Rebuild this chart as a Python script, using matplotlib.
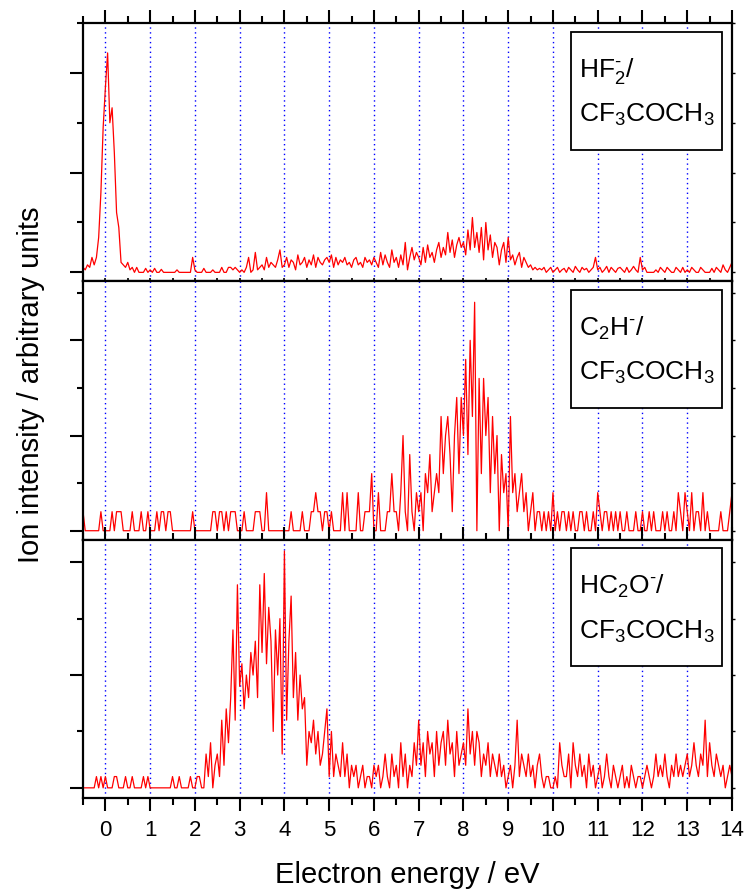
import matplotlib
matplotlib.use("Agg")
import matplotlib.pyplot as plt
import numpy as np
from matplotlib.patches import Rectangle
from matplotlib.ticker import MultipleLocator

plt.rcParams["font.family"] = ["Liberation Sans", "DejaVu Sans"]
plt.rcParams["mathtext.fontset"] = "custom"
plt.rcParams["mathtext.rm"] = "Liberation Sans"
plt.rcParams["mathtext.it"] = "Liberation Sans"

# energy scan: -0.5 .. 14.0 eV, 0.05 eV steps
E0, DE = -0.5, 0.05

# HF2- / CF3COCH3 (arb. units)
hf2 = ([0.1, 0.05, 0.15, 0.1, 0.3, 0.15, 0.3, 0.7, 1.6, 2.9]
       + [3.7, 4.4, 3.0, 3.3, 2.4, 1.2, 0.9, 0.2, 0.15, 0.1, 0.2, 0.05, 0.1, 0.0, 0.1, 0.0, 0.0, 0.0, 0.08, 0.0]
       + [0.05, 0.0, 0.08, 0.0, 0.0, 0.06, 0.0, 0.0, 0.0, 0.0, 0.0, 0.0, 0.05, 0.0, 0.0, 0.0, 0.0, 0.0, 0.0, 0.3]
       + [0.05, 0.0, 0.0, 0.0, 0.08, 0.0, 0.0, 0.0, 0.05, 0.0, 0.0, 0.0, 0.1, 0.0, 0.0, 0.1, 0.1, 0.05, 0.1, 0.05]
       + [0.0, 0.05, 0.0, 0.1, 0.3, 0.0, 0.05, 0.4, 0.05, 0.1, 0.15, 0.05, 0.3, 0.1, 0.2, 0.15, 0.1, 0.25, 0.45, 0.1]
       + [0.15, 0.3, 0.1, 0.25, 0.2, 0.05, 0.35, 0.15, 0.2, 0.3, 0.1, 0.25, 0.15, 0.35, 0.1, 0.3, 0.2, 0.15, 0.25, 0.3]
       + [0.2, 0.35, 0.1, 0.3, 0.15, 0.25, 0.2, 0.3, 0.15, 0.2, 0.1, 0.25, 0.3, 0.15, 0.2, 0.1, 0.3, 0.2, 0.25, 0.15]
       + [0.3, 0.2, 0.1, 0.4, 0.15, 0.35, 0.2, 0.1, 0.45, 0.2, 0.3, 0.1, 0.35, 0.15, 0.6, 0.05, 0.3, 0.5, 0.25, 0.4]
       + [0.3, 0.15, 0.5, 0.2, 0.55, 0.3, 0.4, 0.2, 0.45, 0.6, 0.3, 0.5, 0.35, 0.8, 0.4, 0.65, 0.3, 0.55, 0.7, 0.5]
       + [0.6, 0.35, 0.85, 0.45, 1.1, 0.5, 0.8, 0.4, 0.9, 0.25, 1.0, 0.45, 0.75, 0.3, 0.6, 0.5, 0.15, 0.45, 0.6, 0.2]
       + [0.7, 0.25, 0.35, 0.15, 0.3, 0.4, 0.1, 0.3, 0.2, 0.1, 0.15, 0.05, 0.1, 0.05, 0.08, 0.05, 0.1, 0.0, 0.05, 0.1]
       + [0.0, 0.05, 0.1, 0.0, 0.05, 0.08, 0.0, 0.1, 0.05, 0.0, 0.12, 0.05, 0.0, 0.1, 0.05, 0.08, 0.0, 0.05, 0.1, 0.3]
       + [0.05, 0.1, 0.0, 0.05, 0.12, 0.0, 0.1, 0.05, 0.0, 0.08, 0.1, 0.05, 0.0, 0.1, 0.0, 0.05, 0.12, 0.05, 0.0, 0.3]
       + [0.05, 0.1, 0.0, 0.0, 0.0, 0.0, 0.05, 0.0, 0.1, 0.05, 0.0, 0.1, 0.05, 0.0, 0.0, 0.1, 0.05, 0.0, 0.1, 0.0]
       + [0.05, 0.0, 0.1, 0.05, 0.0, 0.0, 0.1, 0.05, 0.0, 0.0, 0.0, 0.08, 0.0, 0.1, 0.05, 0.0, 0.15, 0.05, 0.0, 0.1]
       + [0.2])

# C2H- / CF3COCH3 (counts)
c2h = ([1, 0, 0, 0, 0, 0, 0, 0, 1, 0]
       + [0, 0, 0, 1, 0, 1, 1, 1, 0, 0, 0, 0, 1, 0, 0, 0, 1, 0, 0, 1]
       + [0, 0, 0, 1, 0, 1, 1, 0, 1, 1, 0, 0, 0, 0, 0, 0, 0, 0, 0, 1]
       + [0, 0, 0, 0, 0, 0, 0, 0, 1, 1, 0, 1, 1, 0, 1, 0, 1, 1, 1, 0]
       + [0, 0, 1, 0, 0, 0, 0, 1, 1, 1, 0, 0, 2, 0, 0, 0, 0, 0, 0, 0]
       + [0, 0, 0, 1, 0, 0, 0, 0, 1, 0, 0, 0, 1, 1, 2, 1, 1, 0, 1, 1]
       + [0, 1, 0, 0, 0, 0, 2, 0, 2, 0, 0, 0, 0, 2, 0, 0, 1, 1, 1, 3]
       + [0, 0, 2, 0, 0, 0, 1, 1, 3, 1, 1, 0, 2, 5, 1, 0, 4, 1, 0, 2]
       + [1, 2, 0, 3, 2, 4, 1, 2, 3, 2, 6, 3, 5, 6, 4, 1, 5, 7, 3, 7]
       + [5, 9, 4, 10, 6, 12, 0, 8, 3, 8, 5, 7, 2, 6, 3, 5, 0, 4, 2, 3]
       + [0, 6, 2, 3, 1, 2, 3, 1, 2, 0, 1, 2, 0, 1, 1, 0, 1, 0, 1, 0]
       + [2, 0, 1, 0, 1, 1, 0, 1, 0, 1, 0, 0, 1, 1, 0, 1, 0, 0, 1, 0]
       + [2, 1, 0, 1, 1, 0, 1, 0, 1, 0, 1, 0, 0, 1, 0, 0, 0, 1, 0, 0]
       + [1, 0, 0, 1, 0, 1, 0, 0, 0, 1, 0, 1, 0, 0, 1, 0, 2, 1, 0, 2]
       + [1, 0, 2, 0, 1, 1, 0, 2, 0, 1, 0, 0, 0, 0, 0, 1, 0, 0, 0, 1]
       + [2])

# HC2O- / CF3COCH3 (counts)
hc2o = ([0, 0, 0, 0, 0, 0, 1, 0, 1, 0]
        + [1, 0, 0, 0, 1, 1, 0, 0, 0, 1, 0, 0, 1, 0, 0, 0, 0, 1, 0, 1]
        + [0, 0, 0, 0, 0, 0, 0, 0, 0, 0, 1, 0, 0, 1, 0, 0, 0, 0, 1, 0]
        + [0, 1, 1, 0, 0, 3, 1, 4, 0, 2, 3, 1, 6, 2, 7, 4, 8, 14, 6, 18]
        + [9, 11, 7, 10, 8, 12, 10, 13, 8, 18, 12, 19, 11, 16, 13, 5, 14, 10, 15, 3]
        + [21, 6, 13, 17, 8, 12, 6, 10, 7, 8, 2, 5, 4, 6, 3, 5, 2, 3, 5, 7]
        + [1, 5, 1, 3, 2, 1, 4, 1, 3, 0, 2, 1, 2, 0, 1, 2, 0, 1, 1, 0]
        + [2, 1, 2, 0, 1, 3, 1, 0, 3, 1, 2, 0, 4, 1, 3, 0, 2, 1, 4, 2]
        + [6, 2, 4, 1, 5, 3, 4, 1, 5, 2, 4, 5, 2, 6, 3, 4, 1, 5, 2, 3]
        + [4, 2, 7, 3, 5, 2, 5, 4, 1, 3, 2, 4, 1, 3, 2, 1, 3, 1, 2, 0]
        + [1, 2, 0, 2, 6, 1, 3, 2, 1, 3, 1, 2, 0, 2, 3, 1, 0, 1, 1, 0]
        + [0, 1, 0, 4, 2, 1, 1, 3, 0, 4, 2, 1, 3, 1, 2, 0, 3, 1, 2, 0]
        + [1, 2, 0, 1, 3, 1, 0, 2, 1, 0, 1, 2, 0, 1, 0, 2, 1, 0, 1, 1]
        + [0, 1, 2, 1, 0, 1, 3, 1, 2, 1, 3, 1, 0, 2, 1, 3, 1, 2, 1, 2]
        + [3, 1, 2, 4, 2, 1, 3, 2, 6, 1, 4, 2, 1, 3, 2, 1, 2, 0, 1, 2]
        + [1])

labels = [(r"HF$_{2}^{\text{-}}$/", r"CF$_{3}$COCH$_{3}$"),
          (r"C$_{2}$H$^{\text{-}}$/", r"CF$_{3}$COCH$_{3}$"),
          (r"HC$_{2}$O$^{\text{-}}$/", r"CF$_{3}$COCH$_{3}$")]
ylims = [(-0.18, 5.0), (-0.47, 13.1), (-0.9, 22.0)]
ymajor = [2, 5, 10]
grid_x = list(range(0, 14))

fig = plt.figure(figsize=(7.48, 8.94), dpi=100)
gs = fig.add_gridspec(3, 1, left=83 / 748, right=732 / 748, top=1 - 23 / 894,
                      bottom=1 - 798 / 894, hspace=0)
axes = [fig.add_subplot(gs[i]) for i in range(3)]

for i, (ax, y) in enumerate(zip(axes, [hf2, c2h, hc2o])):
    y = np.asarray(y, dtype=float)
    x = E0 + DE * np.arange(len(y))
    for g in grid_x:
        ax.axvline(g, color="#0000ff", lw=1.0, ls=(0, (1, 2.5)), zorder=0)
    ax.plot(x, y, color="red", lw=0.9, zorder=2)
    ax.set_xlim(-0.5, 14.0)
    ax.set_ylim(*ylims[i])
    ax.xaxis.set_major_locator(MultipleLocator(1))
    ax.xaxis.set_minor_locator(MultipleLocator(0.5))
    ax.yaxis.set_major_locator(MultipleLocator(ymajor[i]))
    ax.yaxis.set_minor_locator(MultipleLocator(ymajor[i] / 2))
    ax.set_yticklabels([])
    for s in ax.spines.values():
        s.set_linewidth(1.6)
    ax.tick_params(axis="y", which="major", direction="out", length=9.5, width=1.5, left=True, right=False)
    ax.tick_params(axis="y", which="minor", direction="out", length=4.5, width=1.5, left=True, right=False)
    ax.tick_params(axis="x", which="both", direction="out", length=2.5, width=1.2,
                   top=(i > 0), bottom=(i < 2), labelbottom=False)
    # small right-hand ticks
    ay = ax.secondary_yaxis("right")
    ay.yaxis.set_major_locator(MultipleLocator(ymajor[i] / 2))
    ay.tick_params(direction="out", length=2.5, width=1.0, labelright=False)
    ay.spines["right"].set_visible(False)

    ax.add_patch(Rectangle((0.752, 0.51), 0.233, 0.456, transform=ax.transAxes,
                           fill=True, facecolor="white", edgecolor="black", lw=1.3, zorder=5))
    ax.text(0.764, 0.791, labels[i][0], transform=ax.transAxes, fontsize=19,
            va="baseline", ha="left", zorder=6)
    ax.text(0.764, 0.618, labels[i][1], transform=ax.transAxes, fontsize=19,
            va="baseline", ha="left", zorder=6)

# outer x ticks
axes[0].tick_params(axis="x", which="major", top=True, length=9.5, width=1.5)
axes[0].tick_params(axis="x", which="minor", top=True, length=5, width=1.5)
axes[2].tick_params(axis="x", which="major", bottom=True, length=9.5, width=1.5,
                    labelbottom=True, labelsize=16, pad=6)
axes[2].tick_params(axis="x", which="minor", bottom=True, length=5, width=1.5)
axes[2].set_xlabel("Electron energy / eV", fontsize=21, labelpad=15)

fig.text(0.042, 1 - 385 / 894, "Ion intensity / arbitrary units", rotation=90,
         fontsize=21, ha="center", va="center")

fig.savefig("out.png", dpi=100)
